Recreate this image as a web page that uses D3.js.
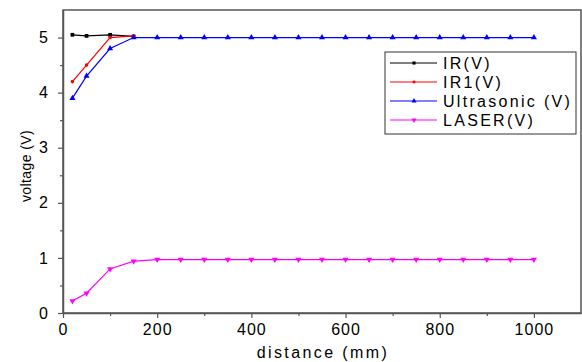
<!DOCTYPE html>
<html>
<head>
<meta charset="utf-8">
<script src="https://cdn.jsdelivr.net/npm/d3@7"></script>
<style>
  body { margin: 0; background: #fff; }
  svg text { font-family: "Liberation Sans", Arial, sans-serif; fill: #000; }
</style>
</head>
<body>
<div id="chart"></div>
<script>
// data
const distanceFull = [20, 50, 100, 150, 200, 250, 300, 350, 400, 450, 500, 550, 600, 650, 700, 750, 800, 850, 900, 950, 1000];
const distanceShort = [20, 50, 100, 150];
const irValues = [5.05, 5.03, 5.05, 5.02];
const ir1Values = [4.2, 4.5, 5.0, 5.03];
const ultrasonicValues = [3.9, 4.3, 4.8, 5.0, 5.0, 5.0, 5.0, 5.0, 5.0, 5.0, 5.0, 5.0, 5.0, 5.0, 5.0, 5.0, 5.0, 5.0, 5.0, 5.0, 5.0];
const laserValues = [0.22, 0.36, 0.8, 0.94, 0.97, 0.97, 0.97, 0.97, 0.97, 0.97, 0.97, 0.97, 0.97, 0.97, 0.97, 0.97, 0.97, 0.97, 0.97, 0.97, 0.97];
const xTicks = [0, 200, 400, 600, 800, 1000];
const yTicks = [0, 1, 2, 3, 4, 5];

const series = [
  { name: "IR(V)", color: "#000000", symbol: d3.symbolSquare, size: 14, x: distanceShort, y: irValues },
  { name: "IR1(V)", color: "#ff0000", symbol: d3.symbolCircle, size: 10, x: distanceShort, y: ir1Values },
  { name: "Ultrasonic (V)", color: "#0000ff", symbol: d3.symbolTriangle, size: 16, x: distanceFull, y: ultrasonicValues },
  { name: "LASER(V)", color: "#ff00ff", symbol: d3.symbolTriangle, size: 16, flip: true, x: distanceFull, y: laserValues },
];

const width = 582, height = 362;
const margin = { top: 10, right: 1, bottom: 49, left: 63 };

const svg = d3.select("#chart").append("svg")
  .attr("width", width)
  .attr("height", height);

const x = d3.scaleLinear().domain([0, 1100]).range([margin.left, width - margin.right]);
const y = d3.scaleLinear().domain([0, 5.5]).range([height - margin.bottom, margin.top]);

// frame
svg.append("rect")
  .attr("x", margin.left)
  .attr("y", margin.top)
  .attr("width", width - margin.right - margin.left)
  .attr("height", height - margin.bottom - margin.top)
  .attr("fill", "none")
  .attr("stroke", "#555")
  .attr("stroke-width", 1.5);

// axes
svg.append("g")
  .attr("transform", `translate(0,${height - margin.bottom})`)
  .call(d3.axisBottom(x).tickValues(xTicks).tickFormat(d3.format("d")).tickSize(5).tickPadding(6).tickSizeOuter(0));
svg.append("g")
  .attr("transform", `translate(0,${height - margin.bottom})`)
  .call(d3.axisBottom(x).tickValues(d3.range(100, 1100, 200)).tickSize(3).tickFormat("").tickSizeOuter(0))
  .call(g => g.select(".domain").remove());

svg.append("g")
  .attr("transform", `translate(${margin.left},0)`)
  .call(d3.axisLeft(y).tickValues(yTicks).tickFormat(d3.format("d")).tickSize(5).tickPadding(9).tickSizeOuter(0));
svg.append("g")
  .attr("transform", `translate(${margin.left},0)`)
  .call(d3.axisLeft(y).tickValues(d3.range(0.5, 5.5, 1)).tickSize(3).tickFormat("").tickSizeOuter(0))
  .call(g => g.select(".domain").remove());

svg.selectAll(".domain").attr("stroke", "#555").attr("stroke-width", 1.5);
svg.selectAll(".tick line").attr("stroke", "#555").attr("stroke-width", 1.2);
svg.selectAll(".tick text").style("font-size", "16px").style("letter-spacing", "1px");

// axis titles
svg.append("text")
  .attr("x", (margin.left + width - margin.right) / 2 + 1)
  .attr("y", 358)
  .attr("text-anchor", "middle")
  .style("font-size", "16px")
  .style("letter-spacing", "2.4px")
  .text("distance (mm)");

svg.append("text")
  .attr("transform", "translate(31,166) rotate(-90)")
  .attr("text-anchor", "middle")
  .style("font-size", "14px")
  .style("letter-spacing", "0.4px")
  .text("voltage (V)");

// lines + markers
const line = d3.line().x(d => x(d[0])).y(d => y(d[1]));

series.forEach(s => {
  const pts = s.x.map((d, i) => [d, s.y[i]]);
  svg.append("path")
    .datum(pts)
    .attr("fill", "none")
    .attr("stroke", s.color)
    .attr("stroke-width", 1.2)
    .attr("d", line);
  svg.append("g").selectAll("path")
    .data(pts)
    .enter()
    .append("path")
    .attr("d", d3.symbol().type(s.symbol).size(s.size))
    .attr("transform", d => `translate(${x(d[0])},${y(d[1])})` + (s.flip ? " rotate(180)" : ""))
    .attr("fill", s.color);
});

// legend
const legend = svg.append("g").attr("transform", "translate(385,52)");
legend.append("rect")
  .attr("width", 191)
  .attr("height", 82)
  .attr("fill", "#fff")
  .attr("stroke", "#333")
  .attr("stroke-width", 1);

const rows = legend.selectAll("g.row")
  .data(series)
  .enter()
  .append("g")
  .attr("transform", (d, i) => `translate(0,${11 + i * 19})`);
rows.append("line")
  .attr("x1", 5).attr("x2", 52)
  .attr("stroke", d => d.color)
  .attr("stroke-width", 1.2);
rows.append("path")
  .attr("d", d => d3.symbol().type(d.symbol).size(d.size * 0.7)())
  .attr("transform", d => "translate(29,0)" + (d.flip ? " rotate(180)" : ""))
  .attr("fill", d => d.color);
rows.append("text")
  .attr("x", 58)
  .attr("dy", "0.36em")
  .style("font-size", "16px")
  .style("letter-spacing", "2.3px")
  .text(d => d.name);
</script>
</body>
</html>
